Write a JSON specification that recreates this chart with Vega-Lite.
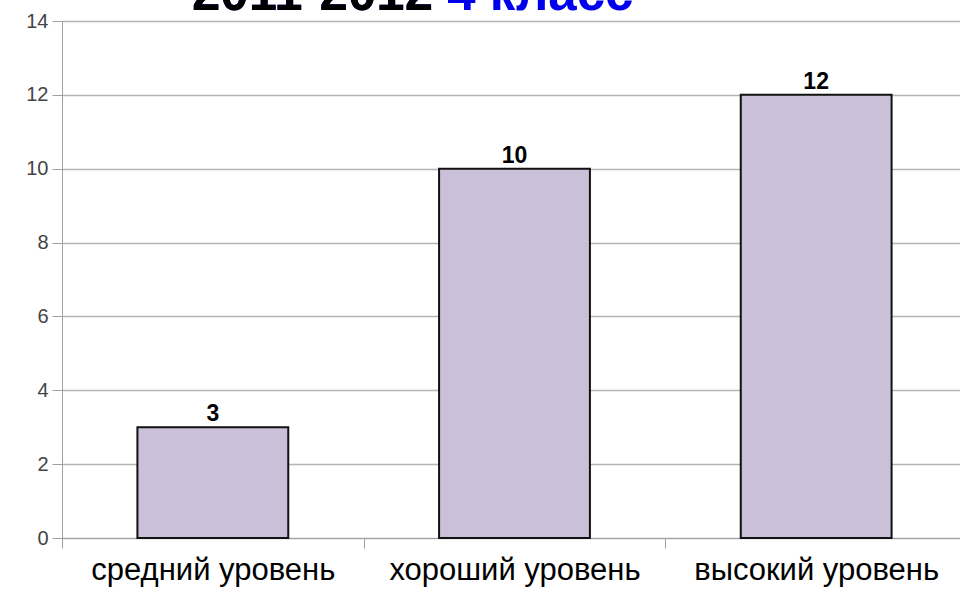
{
  "$schema": "https://vega.github.io/schema/vega-lite/v6.json",
  "width": 905,
  "height": 517,
  "autosize": "none",
  "padding": {"left": 62, "top": 21, "right": 0, "bottom": 51},
  "background": "white",
  "title": {
    "text": "2011-2012 4 класс",
    "subtitle": "2011-2012",
    "anchor": "start",
    "frame": "group",
    "dx": 130,
    "offset": -10,
    "font": "Liberation Sans",
    "fontSize": 51,
    "fontWeight": "bold",
    "color": "#0000ee",
    "subtitleFont": "Liberation Sans",
    "subtitleFontSize": 51,
    "subtitleFontWeight": "bold",
    "subtitleColor": "black",
    "subtitlePadding": -51
  },
  "data": {
    "values": [
      {"level": "средний уровень", "count": 3},
      {"level": "хороший уровень", "count": 10},
      {"level": "высокий уровень", "count": 12}
    ]
  },
  "config": {
    "view": {"stroke": null},
    "axis": {"labelFont": "Liberation Sans", "titleFont": "Liberation Sans"}
  },
  "encoding": {
    "x": {
      "field": "level",
      "type": "nominal",
      "sort": null,
      "scale": {"paddingInner": 0, "paddingOuter": 0},
      "axis": {
        "title": null,
        "labelAngle": 0,
        "labelFontSize": 31,
        "labelColor": "black",
        "labelLimit": 0,
        "labelOverlap": false,
        "labelPadding": 7,
        "tickBand": "extent",
        "tickSize": 10,
        "tickColor": "#a0a0a0",
        "domainColor": "#a0a0a0",
        "grid": false
      }
    },
    "y": {
      "field": "count",
      "type": "quantitative",
      "scale": {"domain": [0, 14], "nice": false},
      "axis": {
        "title": null,
        "values": [0, 2, 4, 6, 8, 10, 12, 14],
        "labelFontSize": 20,
        "labelColor": "#444444",
        "labelPadding": 4,
        "tickSize": 10,
        "tickColor": "#a0a0a0",
        "domainColor": "#a0a0a0",
        "gridColor": "#b4b4b4",
        "gridWidth": 1.5
      }
    }
  },
  "layer": [
    {
      "mark": {"type": "bar", "width": {"band": 0.5}, "fill": "#cac0d9", "stroke": "#111111", "strokeWidth": 2}
    },
    {
      "mark": {"type": "text", "baseline": "bottom", "dy": -1, "font": "Liberation Sans", "fontSize": 23, "fontWeight": "bold", "color": "black"},
      "encoding": {"text": {"field": "count", "type": "quantitative"}}
    }
  ]
}
